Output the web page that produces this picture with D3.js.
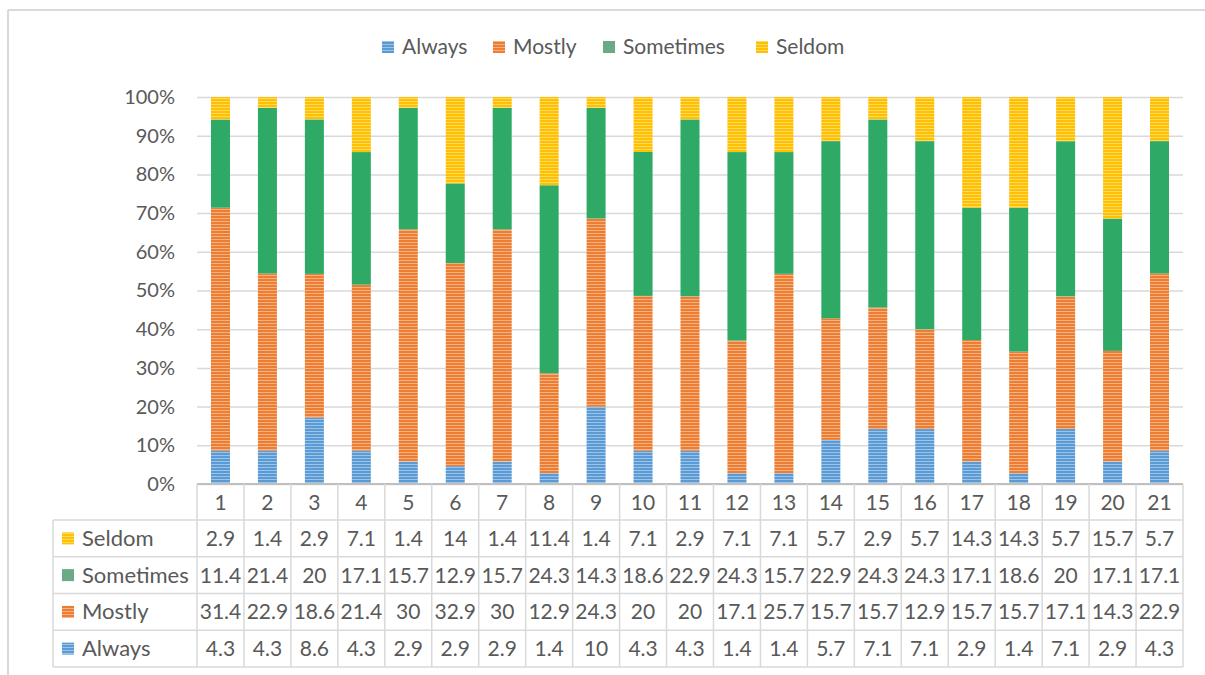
<!DOCTYPE html>
<html>
<head>
<meta charset="utf-8">
<script src="https://cdn.jsdelivr.net/npm/d3@7"></script>
<style>
  html, body { margin: 0; padding: 0; background: #fff; }
  svg { display: block; font-family: Lato, "Open Sans", sans-serif; }
</style>
</head>
<body>
<svg id="chart" width="1205" height="675"></svg>
<script>
// Survey responses per item (counts out of 50), shown as a 100% stacked column chart
const categories = d3.range(1, 22).map(String);
const seriesNames = ["Always", "Mostly", "Sometimes", "Seldom"];
const always    = [4.3, 4.3, 8.6, 4.3, 2.9, 2.9, 2.9, 1.4, 10, 4.3, 4.3, 1.4, 1.4, 5.7, 7.1, 7.1, 2.9, 1.4, 7.1, 2.9, 4.3];
const mostly    = [31.4, 22.9, 18.6, 21.4, 30, 32.9, 30, 12.9, 24.3, 20, 20, 17.1, 25.7, 15.7, 15.7, 12.9, 15.7, 15.7, 17.1, 14.3, 22.9];
const sometimes = [11.4, 21.4, 20, 17.1, 15.7, 12.9, 15.7, 24.3, 14.3, 18.6, 22.9, 24.3, 15.7, 22.9, 24.3, 24.3, 17.1, 18.6, 20, 17.1, 17.1];
const seldom    = [2.9, 1.4, 2.9, 7.1, 1.4, 14, 1.4, 11.4, 1.4, 7.1, 2.9, 7.1, 7.1, 5.7, 2.9, 5.7, 14.3, 14.3, 5.7, 15.7, 5.7];
const yTicks = d3.range(0, 1.0001, 0.1);

const seriesValues = { Always: always, Mostly: mostly, Sometimes: sometimes, Seldom: seldom };
const barColor    = { Always: "#5b9bd5", Mostly: "#ed7d31", Sometimes: "#2eaa66", Seldom: "#ffc000" };
const swatchColor = { Always: "#5b9bd5", Mostly: "#ed7d31", Sometimes: "#6aaa86", Seldom: "#ffc000" };
const striped     = { Always: true, Mostly: true, Sometimes: false, Seldom: true };

const rows = categories.map((c, i) => {
  const r = { cat: c };
  seriesNames.forEach(s => r[s] = seriesValues[s][i]);
  return r;
});

const svg = d3.select("#chart");
const textColor = "#595959";
const gridColor = "#d9d9d9";

// chart frame
svg.append("line").attr("x1", 8).attr("x2", 1205).attr("y1", 10).attr("y2", 10)
  .attr("stroke", "#d9d9d9").attr("stroke-width", 2);
svg.append("line").attr("x1", 8).attr("x2", 8).attr("y1", 10).attr("y2", 675)
  .attr("stroke", "#d9d9d9").attr("stroke-width", 2);

// striped fill patterns
const defs = svg.append("defs");
seriesNames.forEach(s => {
  const p = defs.append("pattern").attr("id", "pat-" + s)
    .attr("patternUnits", "userSpaceOnUse").attr("width", 8).attr("height", 3);
  p.append("rect").attr("width", 8).attr("height", 3).attr("fill", barColor[s]);
  if (striped[s]) {
    p.append("rect").attr("y", 2).attr("width", 8).attr("height", 1)
      .attr("fill", "#fff").attr("opacity", 0.4);
  }
});

const plotLeft = 197, plotRight = 1183, plotTop = 97, plotBottom = 484;

const x = d3.scaleBand().domain(categories).range([plotLeft, plotRight])
  .paddingInner(0.595).paddingOuter(0.2975);
const col = d3.scaleBand().domain(categories).range([plotLeft, plotRight]).padding(0);
const y = d3.scaleLinear().domain([0, 1]).range([plotBottom, plotTop]);

// gridlines and percentage labels
const yAxis = d3.axisLeft(y).tickValues(yTicks).tickFormat(d3.format(".0%"))
  .tickSize(-(plotRight - plotLeft)).tickPadding(22);
const gy = svg.append("g").attr("transform", `translate(${plotLeft},0)`).call(yAxis);
gy.select(".domain").remove();
gy.selectAll(".tick line").attr("stroke", gridColor).attr("stroke-width", 1.5);
gy.selectAll(".tick text").attr("fill", textColor).attr("font-size", 20)
  .attr("font-family", "Lato, sans-serif");

// stacked columns normalised to 100%
const stack = d3.stack().keys(seriesNames).offset(d3.stackOffsetExpand);
const layers = stack(rows);
svg.append("g").selectAll("g").data(layers).join("g")
  .attr("fill", d => "url(#pat-" + d.key + ")")
  .selectAll("rect").data(d => d).join("rect")
  .attr("x", d => x(d.data.cat))
  .attr("width", x.bandwidth())
  .attr("y", d => y(d[1]))
  .attr("height", d => y(d[0]) - y(d[1]));

// category axis line
svg.append("line").attr("x1", plotLeft).attr("x2", plotRight)
  .attr("y1", plotBottom).attr("y2", plotBottom)
  .attr("stroke", "#bfbfbf").attr("stroke-width", 2);

// data table below the plot
const tableLeft = 53, headerTop = plotBottom, headerBottom = 520;
const rowH = 36.75;
const tableRows = ["Seldom", "Sometimes", "Mostly", "Always"];
const tableBottom = headerBottom + rowH * tableRows.length;
const table = svg.append("g");

// horizontal rules
table.append("line").attr("x1", tableLeft).attr("x2", plotRight)
  .attr("y1", headerBottom).attr("y2", headerBottom).attr("stroke", gridColor).attr("stroke-width", 1.5);
tableRows.forEach((s, i) => {
  const yy = headerBottom + rowH * (i + 1);
  table.append("line").attr("x1", tableLeft).attr("x2", plotRight)
    .attr("y1", yy).attr("y2", yy).attr("stroke", gridColor).attr("stroke-width", 1.5);
});
// vertical rules
table.append("line").attr("x1", tableLeft).attr("x2", tableLeft)
  .attr("y1", headerBottom).attr("y2", tableBottom).attr("stroke", gridColor).attr("stroke-width", 1.5);
categories.concat(["end"]).forEach((c, i) => {
  const xx = plotLeft + col.step() * i;
  table.append("line").attr("x1", xx).attr("x2", xx)
    .attr("y1", headerTop).attr("y2", tableBottom).attr("stroke", gridColor).attr("stroke-width", 1.5);
});

// category header
table.selectAll("text.cat").data(categories).join("text").attr("class", "cat")
  .attr("x", d => col(d) + col.bandwidth() / 2)
  .attr("y", (headerTop + headerBottom) / 2 + 7.5)
  .attr("text-anchor", "middle").attr("fill", textColor).attr("font-size", 21)
  .text(d => d);

// series rows
tableRows.forEach((s, i) => {
  const cy = headerBottom + rowH * i + rowH / 2;
  table.append("rect").attr("x", 62).attr("y", cy - 6).attr("width", 12).attr("height", 12)
    .attr("fill", s === "Sometimes" ? swatchColor[s] : "url(#pat-" + s + ")");
  table.append("text").attr("x", 82).attr("y", cy + 7.5)
    .attr("fill", textColor).attr("font-size", 22).text(s);
  table.selectAll("text.v" + s).data(seriesValues[s]).join("text").attr("class", "v" + s)
    .attr("x", (d, j) => col(categories[j]) + col.bandwidth() / 2)
    .attr("y", cy + 7.5)
    .attr("text-anchor", "middle").attr("fill", textColor).attr("font-size", 21)
    .text(d => d);
});

// legend
const legendItems = [
  { name: "Always", x: 382 },
  { name: "Mostly", x: 493 },
  { name: "Sometimes", x: 603 },
  { name: "Seldom", x: 756 }
];
const lg = svg.append("g");
legendItems.forEach(it => {
  lg.append("rect").attr("x", it.x).attr("y", 41).attr("width", 12).attr("height", 12)
    .attr("fill", it.name === "Sometimes" ? swatchColor[it.name] : "url(#pat-" + it.name + ")");
  lg.append("text").attr("x", it.x + 20).attr("y", 54)
    .attr("fill", textColor).attr("font-size", 21).text(it.name);
});
</script>
</body>
</html>
